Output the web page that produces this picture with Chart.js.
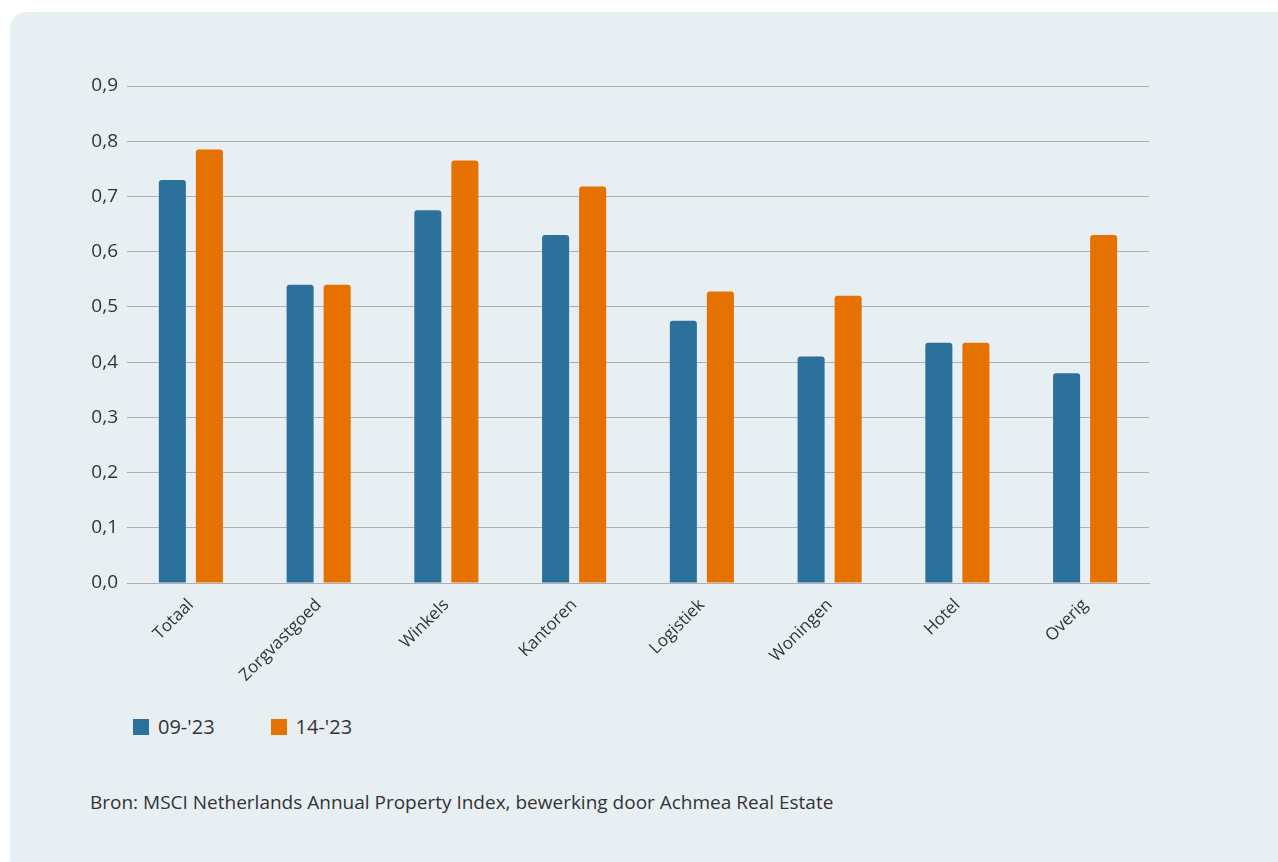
<!DOCTYPE html>
<html>
<head>
<meta charset="utf-8">
<script src="https://cdn.jsdelivr.net/npm/chart.js@4"></script>
<style>
  html, body { margin: 0; padding: 0; background: #ffffff; }
  body { width: 1278px; height: 862px; overflow: hidden; position: relative; font-family: "Open Sans", sans-serif; }
  .card {
    position: absolute; left: 10px; top: 12px; width: 1300px; height: 880px;
    background: #e8eff3; border-radius: 16px;
  }
  #chartWrap { position: absolute; left: 0; top: 0; width: 1278px; height: 700px; }
  .legend { position: absolute; top: 713px; left: 133px; display: flex; align-items: center; font-size: 20px; color: #333; }
  .legend span.box { display: inline-block; width: 16px; height: 16px; margin-right: 9px; }
  .legend .item { display: flex; align-items: center; margin-right: 56px; }
  .source { position: absolute; left: 90px; top: 789px; font-size: 19px; color: #333; }
</style>
</head>
<body>
<div class="card"></div>
<div id="chartWrap"><canvas id="chart" width="1278" height="700"></canvas></div>
<div class="legend">
  <div class="item"><span class="box" style="background:#2c719c"></span>09-'23</div>
  <div class="item"><span class="box" style="background:#e57200"></span>14-'23</div>
</div>
<div class="source">Bron: MSCI Netherlands Annual Property Index, bewerking door Achmea Real Estate</div>

<script>
  const categories = ['Totaal', 'Zorgvastgoed', 'Winkels', 'Kantoren', 'Logistiek', 'Woningen', 'Hotel', 'Overig'];
  const seriesNames = ["09-'23", "14-'23"];
  const values0923 = [0.73, 0.54, 0.675, 0.63, 0.475, 0.41, 0.435, 0.38];
  const values1423 = [0.785, 0.54, 0.765, 0.718, 0.528, 0.52, 0.435, 0.63];

  const blue = '#2c719c';
  const orange = '#e57200';
  const tickColor = '#333333';

  function initChart() {
    const ctx = document.getElementById('chart').getContext('2d');
    new Chart(ctx, {
      type: 'bar',
      data: {
        labels: categories,
        datasets: [
          {
            label: seriesNames[0],
            data: values0923,
            backgroundColor: blue,
            borderRadius: { topLeft: 3, topRight: 3 },
            borderSkipped: 'bottom'
          },
          {
            label: seriesNames[1],
            data: values1423,
            backgroundColor: orange,
            borderRadius: { topLeft: 3, topRight: 3 },
            borderSkipped: 'bottom'
          }
        ]
      },
      options: {
        responsive: false,
        animation: false,
        categoryPercentage: 0.58,
        barPercentage: 0.73,
        layout: { padding: { top: 86, right: 129, left: 0, bottom: 0 } },
        plugins: {
          legend: { display: false },
          tooltip: { enabled: false }
        },
        scales: {
          x: {
            grid: { display: false },
            border: { display: true, color: '#b0b0b0', width: 1 },
            ticks: {
              color: tickColor,
              font: { family: 'Open Sans', size: 17 },
              minRotation: 45,
              maxRotation: 45,
              padding: 4
            },
            afterFit: scale => { scale.height = 117; }
          },
          y: {
            min: 0,
            max: 0.9,
            border: { display: false },
            grid: { color: '#b0b0b0', lineWidth: 1, drawTicks: false },
            ticks: {
              stepSize: 0.1,
              color: tickColor,
              padding: 9,
              font: { family: 'Open Sans', size: 19 },
              callback: v => v.toFixed(1).replace('.', ',')
            },
            afterFit: scale => { scale.width = 127; }
          }
        }
      }
    });
  }

  requestAnimationFrame(initChart);
</script>
</body>
</html>
